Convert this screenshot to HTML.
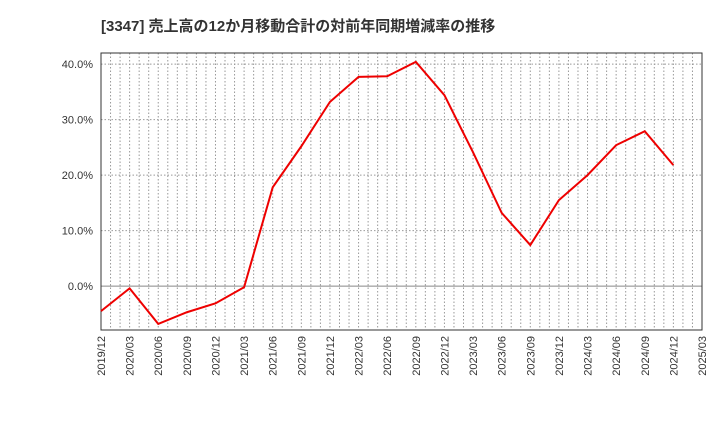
<!DOCTYPE html>
<html><head><meta charset="utf-8"><style>
body{margin:0;background:#fff;}
svg text{font-family:"Liberation Sans","Noto Sans CJK JP",sans-serif;}
</style></head><body>
<svg id="chart" width="720" height="440">
<text x="101" y="31" font-size="15" font-weight="bold" fill="#333">[3347]  売上高の12か月移動合計の対前年同期増減率の推移</text>
<g id="grid"></g><g id="axes"></g><g id="series"></g>
</svg>
<script>
const categories=["2019/12","2020/03","2020/06","2020/09","2020/12","2021/03","2021/06","2021/09","2021/12","2022/03","2022/06","2022/09","2022/12","2023/03","2023/06","2023/09","2023/12","2024/03","2024/06","2024/09","2024/12","2025/03"];
const values=[-4.5,-0.4,-6.8,-4.7,-3.1,-0.2,17.8,25.2,33.2,37.7,37.8,40.4,34.4,24.1,13.2,7.4,15.5,20.0,25.4,27.9,21.8];
const yTicks=[0,10,20,30,40];
const L=101,R=702,T=53,B=330;
const yMin=-7.9,yMax=42;
const x=i=>L+(R-L)*i/(categories.length-1);
const y=v=>B-(v-yMin)/(yMax-yMin)*(B-T);
const NS="http://www.w3.org/2000/svg";
const mk=(p,t,a)=>{const e=document.createElementNS(NS,t);for(const k in a)e.setAttribute(k,a[k]);p.appendChild(e);return e;};
const grid=document.getElementById('grid'),axes=document.getElementById('axes'),series=document.getElementById('series');
const months=(categories.length-1)*3;
for(let m=1;m<months;m++){const xx=L+(R-L)*m/months;
const g=mk(grid,'line',{x1:xx,x2:xx,y1:T,y2:B,stroke:'#999','stroke-dasharray':'1.5,2','stroke-width':1});

}
yTicks.forEach(v=>{const yy=y(v);
const g=mk(grid,'line',{x1:L,x2:R,y1:yy,y2:yy,stroke:v===0?'#888':'#999','stroke-dasharray':v===0?'':'1.5,2','stroke-width':1});


const t=mk(axes,'text',{x:L-8,y:yy+4,'text-anchor':'end','font-size':11,fill:'#333'});
t.textContent=v.toFixed(1)+'%';

});
const fr=mk(axes,'rect',{x:L,y:T,width:R-L,height:B-T,fill:'none',stroke:'#333','stroke-width':1});


categories.forEach((c,i)=>{const xx=x(i);
const t=mk(axes,'text',{x:0,y:0,'text-anchor':'end','font-size':11,fill:'#333',transform:`translate(${xx+4},${B+6}) rotate(-90)`});
t.textContent=c;

});
const p=mk(series,'polyline',{points:values.map((v,i)=>x(i)+','+y(v)).join(' '),fill:'none',stroke:'#e00','stroke-width':2});


</script>
</body></html>
